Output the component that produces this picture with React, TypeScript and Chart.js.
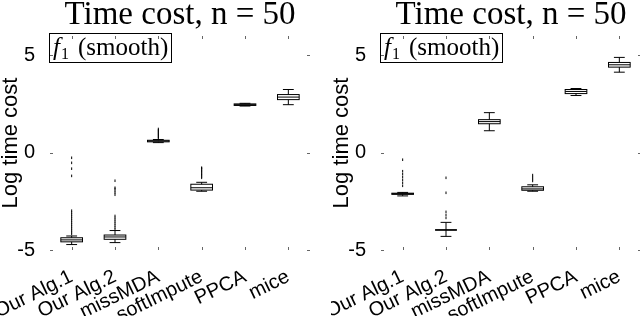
import React, { useEffect, useRef } from 'react';
import { Chart, registerables } from 'chart.js';

Chart.register(...registerables);

const categories = ['Our Alg.1', 'Our Alg.2', 'missMDA', 'softImpute', 'PPCA', 'mice'];
const titleText = 'Time cost, n = 50';
const yAxisTitle = 'Log time cost';
const legendItalic = 'f';
const legendSub = '1';
const legendRest = '(smooth)';
const yTickValues = [-5, 0, 5];
const yMin = -5;
const yMax = 6;

// Left panel
const leftQ1 = [-4.58, -4.45, 0.56, -1.92, 2.43, 2.73];
const leftMedian = [-4.48, -4.33, 0.6, -1.8, 2.47, 2.86];
const leftQ3 = [-4.37, -4.23, 0.64, -1.62, 2.51, 2.99];
const leftLower = [-4.72, -4.62, 0.52, -1.98, 2.4, 2.47];
const leftUpper = [-4.28, -4.0, 0.68, -1.52, 2.54, 3.25];
const leftOutliers = [
  [-4.18, -4.08, -3.98, -3.88, -3.78, -3.68, -3.58, -3.48, -3.38, -3.28, -3.18, -3.08, -2.98, -1.19, -0.82, -0.52, -0.26],
  [-3.95, -3.85, -3.75, -3.65, -3.55, -3.45, -3.35, -3.25, -2.16, -2.06, -1.96, -1.86, -1.8, -1.44],
  [0.74, 0.8, 0.86, 0.92, 0.98, 1.04, 1.1, 1.16, 1.22],
  [-1.29, -1.22, -1.15, -1.08, -1.01, -0.94, -0.87, -0.8, -0.77],
  [],
  [],
];

// Right panel
const rightQ1 = [-2.14, -3.97, 1.49, -1.93, 3.04, 4.4];
const rightMedian = [-2.11, -3.97, 1.6, -1.86, 3.15, 4.52];
const rightQ3 = [-2.08, -3.97, 1.7, -1.75, 3.25, 4.64];
const rightLower = [-2.22, -4.3, 1.13, -1.98, 2.94, 4.14];
const rightUpper = [-2.04, -3.58, 2.06, -1.65, 3.3, 4.9];
const rightOutliers = [
  [-1.7, -1.55, -1.4, -1.25, -1.1, -0.95, -0.36],
  [-3.35, -3.2, -3.04, -2.06, -1.29],
  [],
  [-1.45, -1.35, -1.25, -1.15],
  [],
  [],
];

const SANS = '"Liberation Sans", Arial, sans-serif';
const SERIF = '"Liberation Serif", "Times New Roman", serif';

function makeConfig(q1: number[], med: number[], q3: number[], lo: number[], hi: number[], outliers: number[][]): any {
  const points: { x: string; y: number }[] = [];
  outliers.forEach((arr, i) => arr.forEach((v) => points.push({ x: categories[i], y: v })));

  const boxPlugin = {
    id: 'boxes',
    afterDatasetsDraw(chart: any) {
      const { ctx } = chart;
      const x = chart.scales.x;
      const y = chart.scales.y;
      const step = x.getPixelForValue(1) - x.getPixelForValue(0);
      const half = step * 0.25;
      const cap = half * 0.5;
      ctx.save();
      ctx.strokeStyle = '#000';
      ctx.lineWidth = 1;
      categories.forEach((_, i) => {
        const px = x.getPixelForValue(i);
        const y1 = y.getPixelForValue(q1[i]);
        const y3 = y.getPixelForValue(q3[i]);
        const ym = y.getPixelForValue(med[i]);
        const yl = y.getPixelForValue(lo[i]);
        const yh = y.getPixelForValue(hi[i]);
        ctx.beginPath();
        ctx.moveTo(px, y3);
        ctx.lineTo(px, yh);
        ctx.moveTo(px, y1);
        ctx.lineTo(px, yl);
        ctx.moveTo(px - cap, yh);
        ctx.lineTo(px + cap, yh);
        ctx.moveTo(px - cap, yl);
        ctx.lineTo(px + cap, yl);
        ctx.stroke();
        ctx.strokeRect(px - half, y3, 2 * half, y1 - y3);
        ctx.beginPath();
        ctx.moveTo(px - half, ym);
        ctx.lineTo(px + half, ym);
        ctx.stroke();
      });
      ctx.restore();
    },
  };

  const decorPlugin = {
    id: 'decor',
    afterDraw(chart: any) {
      const { ctx, chartArea } = chart;
      const x = chart.scales.x;
      const y = chart.scales.y;
      ctx.save();
      // title
      ctx.fillStyle = '#000';
      ctx.font = `33px ${SERIF}`;
      ctx.textAlign = 'center';
      ctx.textBaseline = 'alphabetic';
      ctx.fillText(titleText, (chartArea.left + chartArea.right) / 2, 24);
      // legend box
      const bx = chartArea.left - 0.5;
      const by = chartArea.top - 2.5;
      ctx.fillStyle = '#fff';
      ctx.fillRect(bx, by, 122, 29);
      ctx.strokeStyle = '#000';
      ctx.lineWidth = 1;
      ctx.strokeRect(bx, by, 122, 29);
      ctx.fillStyle = '#000';
      ctx.textAlign = 'left';
      ctx.font = `italic 25px ${SERIF}`;
      ctx.fillText(legendItalic, chartArea.left + 3, chartArea.top + 19);
      const fw = ctx.measureText(legendItalic).width;
      ctx.font = `16px ${SERIF}`;
      ctx.fillText(legendSub, chartArea.left + 4 + fw, chartArea.top + 23);
      ctx.font = `25px ${SERIF}`;
      ctx.fillText(legendRest, chartArea.left + 28, chartArea.top + 19);
      // tick marks
      ctx.strokeStyle = '#666';
      ctx.lineWidth = 1;
      ctx.beginPath();
      categories.forEach((_, i) => {
        const px = Math.round(x.getPixelForValue(i)) + 0.5;
        ctx.moveTo(px, chartArea.top);
        ctx.lineTo(px, chartArea.top + 3);
        ctx.moveTo(px, chartArea.bottom);
        ctx.lineTo(px, chartArea.bottom - 3);
      });
      yTickValues.forEach((v) => {
        const py = Math.round(y.getPixelForValue(v)) + 0.5;
        ctx.moveTo(chartArea.left, py);
        ctx.lineTo(chartArea.left + 3, py);
        ctx.moveTo(chartArea.right, py);
        ctx.lineTo(chartArea.right - 3, py);
      });
      ctx.stroke();
      ctx.restore();
    },
  };

  return {
    type: 'scatter',
    data: {
      labels: categories,
      datasets: [
        {
          data: points,
          pointStyle: 'line',
          rotation: 90,
          radius: 1.3,
          borderWidth: 1,
          borderColor: '#000',
          backgroundColor: '#000',
        },
      ],
    },
    options: {
      responsive: false,
      animation: false,
      events: [],
      layout: { padding: { top: 36, right: 10, left: 0, bottom: 0 } },
      plugins: {
        legend: { display: false },
        title: { display: false },
        tooltip: { enabled: false },
      },
      scales: {
        x: {
          type: 'category',
          labels: categories,
          offset: true,
          grid: { display: false },
          border: { display: false },
          ticks: {
            autoSkip: false,
            maxRotation: 26,
            minRotation: 26,
            padding: 7,
            color: '#000',
            font: { family: SANS, size: 20 },
          },
          afterFit(s: any) {
            s.height = 66;
            s.paddingLeft = 0;
            s.paddingRight = 0;
          },
        },
        y: {
          type: 'linear',
          min: yMin,
          max: yMax,
          grid: { display: false },
          border: { display: false },
          afterBuildTicks(s: any) {
            s.ticks = yTickValues.map((v) => ({ value: v }));
          },
          ticks: { padding: 7, color: '#000', font: { family: SANS, size: 20 } },
          title: {
            display: true,
            text: yAxisTitle,
            color: '#000',
            font: { family: SANS, size: 22, lineHeight: 1 },
            padding: 0,
          },
          afterFit(s: any) {
            s.width = 50;
            s.paddingTop = 0;
            s.paddingBottom = 0;
          },
        },
      },
    },
    plugins: [boxPlugin, decorPlugin],
  };
}

export default function App() {
  const leftRef = useRef<HTMLCanvasElement>(null);
  const rightRef = useRef<HTMLCanvasElement>(null);

  useEffect(() => {
    document.body.style.margin = '0';
    const c1 = new Chart(leftRef.current as HTMLCanvasElement, makeConfig(leftQ1, leftMedian, leftQ3, leftLower, leftUpper, leftOutliers));
    const c2 = new Chart(rightRef.current as HTMLCanvasElement, makeConfig(rightQ1, rightMedian, rightQ3, rightLower, rightUpper, rightOutliers));
    return () => {
      c1.destroy();
      c2.destroy();
    };
  }, []);

  return (
    <div style={{ position: 'relative', width: 640, height: 316, overflow: 'hidden', background: '#fff' }}>
      <canvas ref={leftRef} width={320} height={316} style={{ position: 'absolute', left: 0, top: 0, width: 320, height: 316 }} />
      <canvas ref={rightRef} width={320} height={316} style={{ position: 'absolute', left: 331, top: 0, width: 320, height: 316 }} />
    </div>
  );
}
